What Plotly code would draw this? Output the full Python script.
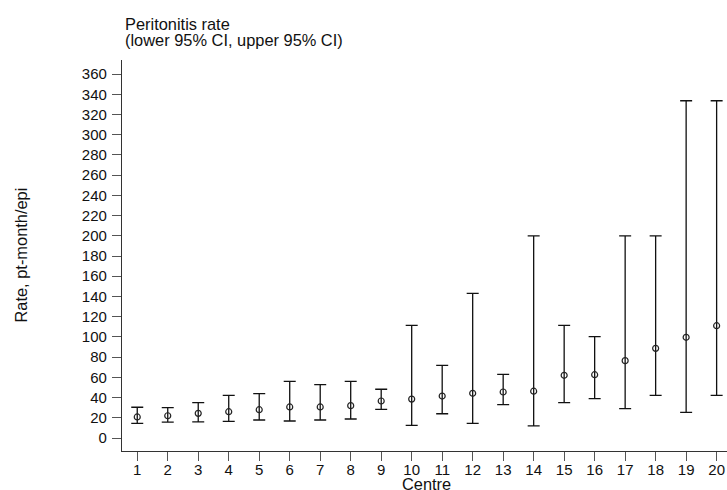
import plotly.graph_objects as go

centres = list(range(1, 21))
rate = [20.8, 22.0, 24.4, 26.0, 28.0, 30.7, 30.7, 32.0, 36.6, 38.5,
        41.5, 44.2, 45.5, 46.3, 62.0, 62.6, 76.5, 88.7, 99.6, 111.1]
lower = [14.5, 15.8, 16.0, 16.5, 17.8, 16.8, 17.8, 18.8, 28.4, 12.5,
         24.0, 14.5, 33.0, 11.9, 35.0, 38.9, 29.0, 42.2, 25.4, 42.2]
upper = [30.4, 30.0, 35.0, 42.2, 43.8, 56.0, 52.7, 56.0, 48.2, 111.5,
         71.9, 143.0, 63.0, 200.0, 111.5, 100.2, 200.0, 200.0, 333.6, 333.6]
y_ticks = list(range(0, 361, 20))

W, H = 727, 490
L, T, B = 122, 60, 39
FONT = "Liberation Sans, Arial, Helvetica, sans-serif"


def py(p):
    return (H - B - p) / (H - B - T)


def px(p):
    return (p - L) / (W - L)


fig = go.Figure()
fig.add_trace(go.Scatter(
    x=centres, y=rate, mode="markers",
    marker=dict(symbol="circle-open", size=6, color="#222", line=dict(width=1.2, color="#222")),
    error_y=dict(type="data", symmetric=False,
                 array=[u - r for u, r in zip(upper, rate)],
                 arrayminus=[r - l for r, l in zip(rate, lower)],
                 color="#111", thickness=1.3, width=6),
    showlegend=False,
))

fig.update_layout(
    width=W, height=H,
    margin=dict(l=L, r=0, t=T, b=B, pad=0),
    paper_bgcolor="white", plot_bgcolor="white",
    font=dict(family=FONT, size=15, color="#111"),
    xaxis=dict(range=[0.5, 20.34], tickmode="array", tickvals=centres,
               ticktext=[str(c) for c in centres],
               showline=True, linecolor="#333", linewidth=1.3,
               ticks="outside", ticklen=9, tickwidth=1.3, tickcolor="#555",
               showgrid=False, zeroline=False, ticklabelstandoff=-4),
    yaxis=dict(range=[-12.86, 373.9], tickmode="array", tickvals=y_ticks,
               showline=True, linecolor="#333", linewidth=1.3,
               ticks="outside", ticklen=9, tickwidth=1.3, tickcolor="#555",
               showgrid=False, zeroline=False, ticklabelstandoff=2),
    annotations=[
        dict(text="Peritonitis rate", xref="paper", yref="paper",
             x=px(123), y=py(23.5), xanchor="left", yanchor="middle",
             showarrow=False, font=dict(size=16.4)),
        dict(text="(lower 95% CI, upper 95% CI)", xref="paper", yref="paper",
             x=px(123), y=py(39.5), xanchor="left", yanchor="middle",
             showarrow=False, font=dict(size=16.4)),
        dict(text="Centre", xref="x", yref="paper",
             x=10.5, y=py(484), xanchor="center", yanchor="middle",
             showarrow=False, font=dict(size=16.4)),
        dict(text="Rate, pt-month/epi", xref="paper", yref="paper",
             x=px(20), y=0.5, xanchor="center", yanchor="middle", textangle=-90,
             showarrow=False, font=dict(size=16.4)),
    ],
)

fig.write_html("out.html")
